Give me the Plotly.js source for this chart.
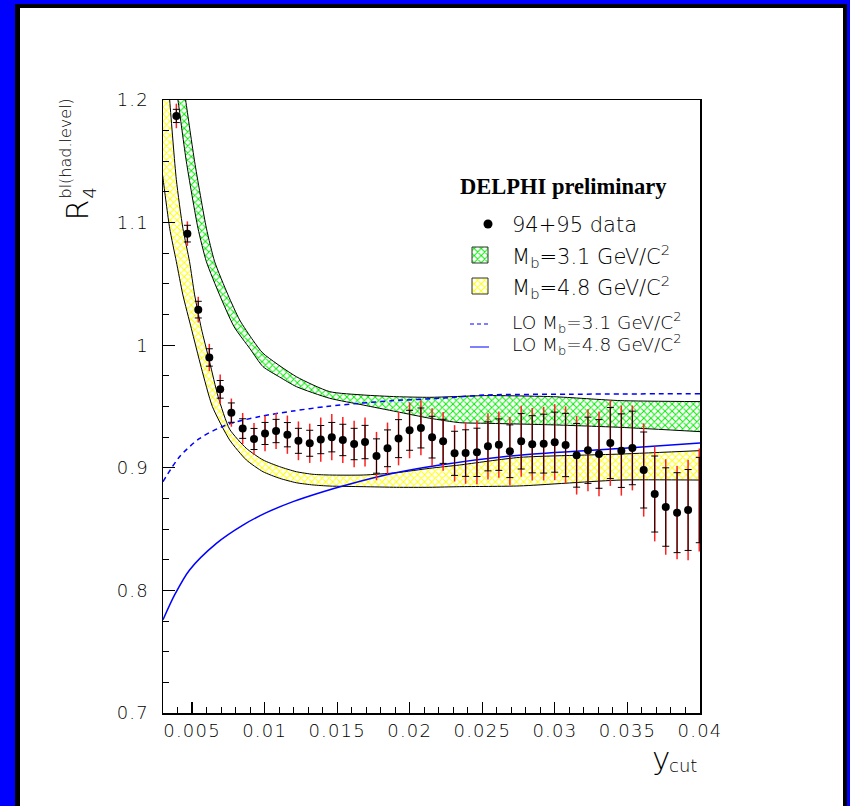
<!DOCTYPE html>
<html><head><meta charset="utf-8">
<script src="https://cdn.plot.ly/plotly-3.0.1.min.js"></script>
<style>
body{margin:0;background:#0000ff;width:850px;height:806px;overflow:hidden;position:relative}
#frameB{position:absolute;left:15px;top:4px;width:832px;height:820px;background:#000}
#frameW{position:absolute;left:20px;top:8px;width:823px;height:820px;background:#fff}
#plot{position:absolute;left:0;top:0;width:850px;height:806px}
#plot .xtick text, #plot .ytick text{letter-spacing:1.2px}
</style></head>
<body>
<div id="frameB"></div><div id="frameW"></div><div id="plot"></div>
<script>
// ---- data ----
const ycut = [0.00392,0.00468,0.00543,0.00619,0.00694,0.00771,0.00849,0.00927,0.01003,0.01079,
  0.01157,0.01233,0.01311,0.01387,0.01463,0.01539,0.01617,0.01692,0.01771,0.01847,
  0.01923,0.01999,0.02077,0.02154,0.0223,0.02309,0.02385,0.02463,0.02539,0.02614,
  0.0269,0.02768,0.02844,0.02923,0.02999,0.03074,0.0315,0.03228,0.03304,0.03382,
  0.03458,0.03534,0.03612,0.03688,0.03764,0.03842,0.03918,0.03995];
const r4 = [1.187,1.091,1.029,0.990,0.964,0.945,0.932,0.9235,0.928,0.930,
  0.927,0.922,0.920,0.923,0.925,0.9227,0.9194,0.921,0.9096,0.9159,
  0.9238,0.9306,0.9325,0.925,0.9216,0.9118,0.912,0.9126,0.9175,0.9189,
  0.9135,0.9216,0.9192,0.9197,0.9209,0.9186,0.9102,0.9143,0.9113,0.9202,
  0.914,0.9162,0.8982,0.8786,0.868,0.8634,0.8656,0.8737];
const errStat = [0.0054,0.0068,0.0068,0.0071,0.0072,0.0079,0.008,0.0086,0.009,0.0095,
  0.0099,0.0102,0.0106,0.0115,0.012,0.0128,0.0128,0.0136,0.014,0.015,
  0.0155,0.0163,0.0163,0.017,0.018,0.018,0.019,0.0197,0.020,0.021,
  0.0215,0.0226,0.0233,0.024,0.0245,0.0258,0.026,0.027,0.028,0.029,
  0.030,0.030,0.031,0.031,0.032,0.0326,0.033,0.0348];
const errTot = [0.010,0.010,0.0105,0.0111,0.012,0.0115,0.0127,0.013,0.0144,0.0147,
  0.0156,0.0158,0.016,0.018,0.0188,0.0188,0.019,0.020,0.0197,0.021,
  0.0218,0.0228,0.0223,0.0235,0.024,0.023,0.025,0.026,0.027,0.027,
  0.028,0.029,0.0296,0.030,0.031,0.0315,0.032,0.0335,0.0346,0.035,
  0.0367,0.0346,0.038,0.0386,0.039,0.038,0.041,0.042];

// Mb = 3.1 band (green)
const g31LowX = [0.00357,0.00403,0.00461,0.00541,0.00599,0.0069,0.0079,0.0090,0.00989,0.01104,0.01219,0.01449,0.01679,0.01909,0.02139,0.02345,0.0253,0.0299,0.0345,0.04];
const g31LowY = [1.24,1.2,1.1497,1.0954,1.0681,1.041,1.015,0.997,0.9825,0.974,0.9662,0.9567,0.9512,0.9458,0.9404,0.9368,0.9363,0.935,0.933,0.9295];
const g31UpX  = [0.00407,0.00456,0.00518,0.00599,0.00656,0.00748,0.00828,0.0092,0.00989,0.01219,0.01449,0.01679,0.01909,0.02139,0.0253,0.0299,0.0345,0.04];
const g31UpY  = [1.24,1.2,1.1497,1.0954,1.0681,1.041,1.0206,1.004,0.9934,0.9743,0.9621,0.9594,0.958,0.9575,0.9589,0.958,0.9548,0.954];
// Mb = 4.8 band (yellow)
const y48LowX = [0.0028,0.003,0.00346,0.00392,0.00437,0.00495,0.00564,0.00640,0.00759,0.00874,0.00989,0.01104,0.01219,0.01334,0.01449,0.01679,0.01909,0.02139,0.02345,0.02757,0.0345,0.04];
const y48LowY = [1.155,1.1361,1.0954,1.0681,1.041,1.0138,0.9816,0.950,0.9227,0.9064,0.8968,0.8914,0.8878,0.886,0.8851,0.8846,0.8841,0.8841,0.8846,0.8852,0.890,0.890];
const y48UpX  = [0.0029,0.00346,0.00392,0.00437,0.00483,0.00518,0.00564,0.00621,0.00680,0.00759,0.00874,0.00989,0.01104,0.01219,0.01334,0.01449,0.01679,0.01909,0.02139,0.02345,0.02757,0.0345,0.04];
const y48UpY  = [1.29,1.2,1.135,1.0954,1.0681,1.041,1.0138,0.9865,0.958,0.9315,0.9159,0.9064,0.9009,0.8968,0.8947,0.8941,0.8941,0.896,0.8996,0.9023,0.9085,0.9112,0.914];
// LO curves
const lo31X = [0.003,0.00414,0.00553,0.00737,0.00966,0.01196,0.01426,0.01656,0.01886,0.02208,0.0253,0.03104,0.04];
const lo31Y = [0.8887,0.909,0.924,0.935,0.9418,0.9463,0.950,0.9526,0.9548,0.9567,0.9594,0.960,0.9605];
const lo48X = [0.003,0.0038,0.00483,0.00668,0.00851,0.01012,0.01196,0.01403,0.01564,0.01886,0.02208,0.02757,0.0345,0.04];
const lo48Y = [0.776,0.7963,0.8167,0.8384,0.8533,0.8634,0.8724,0.8805,0.886,0.8955,0.9023,0.9103,0.9157,0.9203];

const xTickVals = [0.005,0.01,0.015,0.02,0.025,0.03,0.035,0.04];
const xTickText = ['0.005','0.01','0.015','0.02','0.025','0.03','0.035','0.04'];
const yTickVals = [0.7,0.8,0.9,1.0,1.1,1.2];
const yTickText = ['0.7','0.8','0.9','1','1.1','1.2'];

// ---- styling ----
const FONT = 'DejaVu Sans, Liberation Sans, Arial, sans-serif';
const GREEN = '#00ee00', YELLOW = '#ffff00', BLUE = '#0000ff';
const L = 163, R = 700, T = 100, B = 713;
const px = v => (v - L) / (R - L);
const py = v => (B - v) / (B - T);

const bandLine = {color:'#000', width:1, shape:'spline', smoothing:0.6};
const traces = [
  {x:y48LowX, y:y48LowY, mode:'lines', line:bandLine, hoverinfo:'skip'},
  {x:y48UpX, y:y48UpY, mode:'lines', line:bandLine, fill:'tonexty', fillcolor:'rgba(0,0,0,0)',
   fillpattern:{shape:'x', fgcolor:YELLOW, bgcolor:'white', size:5, solidity:0.35}, hoverinfo:'skip'},
  {x:g31LowX, y:g31LowY, mode:'lines', line:bandLine, hoverinfo:'skip'},
  {x:g31UpX, y:g31UpY, mode:'lines', line:bandLine, fill:'tonexty', fillcolor:'rgba(0,0,0,0)',
   fillpattern:{shape:'x', fgcolor:GREEN, bgcolor:'white', size:5, solidity:0.35}, hoverinfo:'skip'},
  {x:lo31X, y:lo31Y, mode:'lines', line:{color:BLUE, width:1.5, dash:'5px,4px', shape:'spline', smoothing:0.8}},
  {x:lo48X, y:lo48Y, mode:'lines', line:{color:BLUE, width:1.5, shape:'spline', smoothing:0.8}},
  {x:ycut, y:r4, mode:'markers', marker:{size:1, color:'rgba(0,0,0,0)'},
   error_y:{type:'data', array:errTot, color:'#ff2020', thickness:1.5, width:0}},
  {x:ycut, y:r4, mode:'markers', opacity:1,
   marker:{size:ycut.map((v,i)=> i===ycut.length-1 ? 0 : 8), color:'#000000', opacity:1, line:{width:0, color:'#000'}},
   error_y:{type:'data', array:errStat, color:'#000', thickness:1, width:3.5}},
  // legend swatches (overlay axes in plot-fraction units)
  {x:[px(488)], y:[py(224)], xaxis:'x2', yaxis:'y2', mode:'markers', marker:{size:9, color:'#000'}},
  {x:[px(472),px(488),px(488),px(472),px(472)], y:[py(247),py(247),py(263),py(263),py(247)], xaxis:'x2', yaxis:'y2',
   mode:'lines', line:{color:'#333', width:1}, fill:'toself', fillcolor:'rgba(0,0,0,0)',
   fillpattern:{shape:'x', fgcolor:GREEN, bgcolor:'white', size:5, solidity:0.35}},
  {x:[px(472),px(488),px(488),px(472),px(472)], y:[py(278),py(278),py(294),py(294),py(278)], xaxis:'x2', yaxis:'y2',
   mode:'lines', line:{color:'#333', width:1}, fill:'toself', fillcolor:'rgba(0,0,0,0)',
   fillpattern:{shape:'x', fgcolor:YELLOW, bgcolor:'white', size:5, solidity:0.35}},
  {x:[px(470),px(489)], y:[py(324),py(324)], xaxis:'x2', yaxis:'y2', mode:'lines', line:{color:BLUE, width:1, dash:'4px,3px'}},
  {x:[px(470),px(489)], y:[py(347),py(347)], xaxis:'x2', yaxis:'y2', mode:'lines', line:{color:BLUE, width:1}}
];

const txt = (t, x, y, size, extra) => Object.assign({text:t, xref:'paper', yref:'paper', x:px(x), y:py(y),
  showarrow:false, xanchor:'left', yanchor:'middle', borderpad:0, font:{family:FONT, size:size, color:'#000', weight:300}}, extra||{});

const annotations = [
  txt('<b>DELPHI preliminary</b>', 459, 186, 22.5, {font:{family:'Liberation Serif, Times New Roman, serif', size:22.5, color:'#000'}}),
  txt('94+95 data', 511, 225, 21),
  txt('M<sub>b</sub>=3.1 GeV/C<sup>2</sup>', 511, 256, 21),
  txt('M<sub>b</sub>=4.8 GeV/C<sup>2</sup>', 511, 287, 21),
  txt('LO M<sub>b</sub>=3.1 GeV/C<sup>2</sup>', 511, 322.5, 18.5),
  txt('LO M<sub>b</sub>=4.8 GeV/C<sup>2</sup>', 511, 344, 18.5),
  // y title
  txt('R', 76.5, 210, 30, {xanchor:'center', textangle:-90}),
  txt('4', 88.5, 193, 18, {xanchor:'center', textangle:-90}),
  txt('bl(had.level)', 65, 148.5, 16, {xanchor:'center', textangle:-90}),
  // x title
  txt('y', 661, 758, 31, {xanchor:'center'}),
  txt('cut', 668, 765, 18)
];

const axisCommon = {showline:true, mirror:true, linecolor:'#000', linewidth:1.5, showgrid:false, zeroline:false,
  ticks:'inside', tickcolor:'#000', tickwidth:1.2, tickmode:'array',
  tickfont:{family:FONT, size:18, color:'#000', weight:300}};

const layout = {
  width:850, height:806, margin:{l:L, r:850-R, t:T, b:806-B},
  paper_bgcolor:'rgba(0,0,0,0)', plot_bgcolor:'rgba(0,0,0,0)', showlegend:false,
  xaxis:Object.assign({}, axisCommon, {range:[0.003,0.04], tickvals:xTickVals, ticktext:xTickText, ticklen:11,
    ticklabelstandoff:1, minor:{dtick:0.001, tick0:0, ticks:'inside', ticklen:6, tickcolor:'#000', tickwidth:1, showgrid:false}}),
  yaxis:Object.assign({}, axisCommon, {range:[0.7,1.2], tickvals:yTickVals, ticktext:yTickText, ticklen:12,
    ticklabelstandoff:9, minor:{dtick:0.025, tick0:0.7, ticks:'inside', ticklen:6, tickcolor:'#000', tickwidth:1, showgrid:false}}),
  xaxis2:{overlaying:'x', range:[0,1], visible:false, fixedrange:true},
  yaxis2:{overlaying:'y', range:[0,1], visible:false, fixedrange:true},
  annotations:annotations
};

Plotly.newPlot('plot', traces, layout, {staticPlot:true, displayModeBar:false});
</script>
</body></html>
